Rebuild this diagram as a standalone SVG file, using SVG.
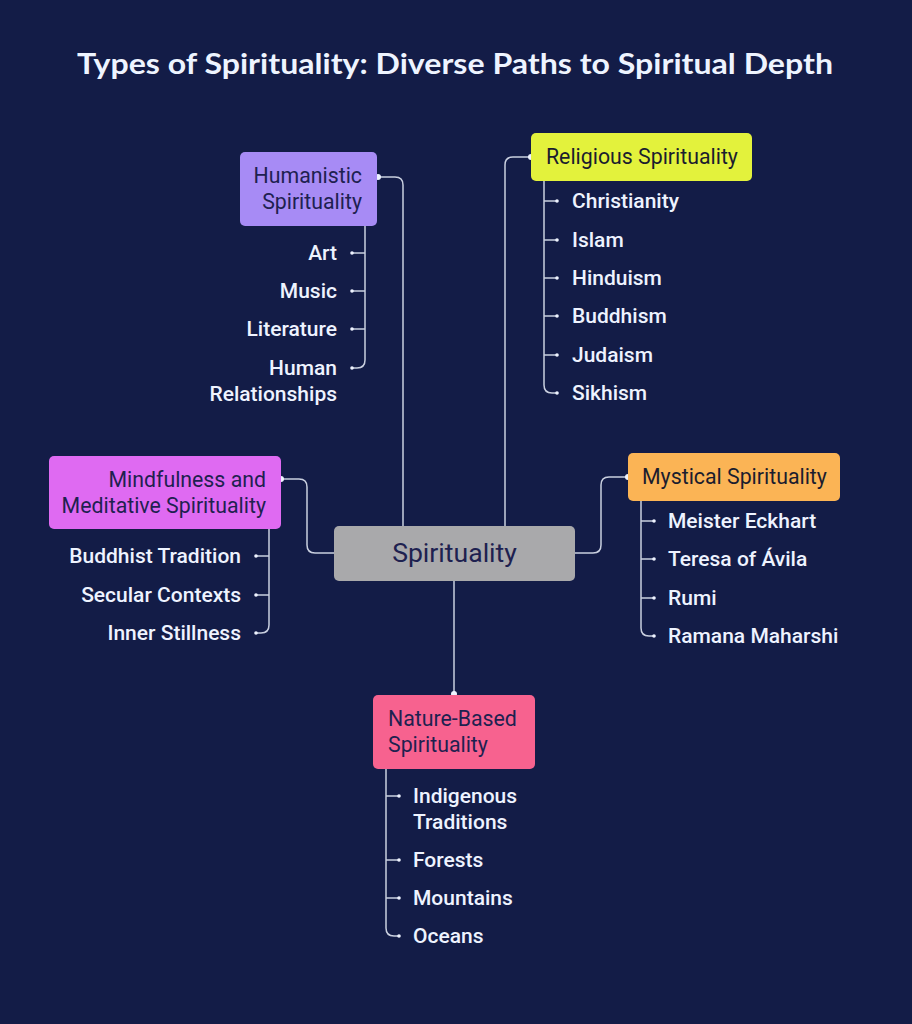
<svg xmlns="http://www.w3.org/2000/svg" width="912" height="1024" viewBox="0 0 912 1024">
<style>
.title{font-family:Lato,"Liberation Sans",sans-serif;font-weight:700;font-size:28px;fill:#eef4ff}
.nt{font-family:Roboto,"Liberation Sans",sans-serif;font-size:21.3px;fill:#1e2150}
.ct{font-family:Roboto,"Liberation Sans",sans-serif;font-size:26.6px;fill:#1e2150}
.lb{font-family:Roboto,"Liberation Sans",sans-serif;font-size:21px;fill:#eef3ff;font-weight:500}
.ln{fill:none;stroke:#c9cfdf;stroke-width:1.5}
.dot{fill:#eef3ff}
</style>
<rect width="912" height="1024" fill="#131c47"/>
<text class="title" x="455" y="74" text-anchor="middle" textLength="756" lengthAdjust="spacingAndGlyphs">Types of Spirituality: Diverse Paths to Spiritual Depth</text>

<g id="connectors">
  <path class="ln" d="M378,177 H395 Q403,177 403,185 V526"/>
  <path class="ln" d="M531,157 H513 Q505,157 505,165 V526"/>
  <path class="ln" d="M281,479 H299 Q307,479 307,487 V545 Q307,553 315,553 H334"/>
  <path class="ln" d="M575,553 H593 Q601,553 601,545 V485 Q601,477 609,477 H628"/>
  <path class="ln" d="M454,581 V694"/>
  <circle class="dot" cx="378" cy="177" r="3"/>
  <circle class="dot" cx="531" cy="157" r="3"/>
  <circle class="dot" cx="281" cy="479" r="3"/>
  <circle class="dot" cx="628" cy="477" r="3"/>
  <circle class="dot" cx="454" cy="694" r="3"/>
  <path class="ln" d="M365,226 V360 Q365,368 357,368 H352 M352,253 H365 M352,291 H365 M352,329 H365"/>
  <path class="ln" d="M544,181 V385 Q544,393 552,393 H557 M544,201 H557 M544,240 H557 M544,278 H557 M544,316 H557 M544,355 H557"/>
  <path class="ln" d="M269,529 V625 Q269,633 261,633 H256 M256,556 H269 M256,595 H269"/>
  <path class="ln" d="M641,501 V628 Q641,636 649,636 H654 M641,521 H654 M641,559 H654 M641,598 H654"/>
  <path class="ln" d="M386,769 V928 Q386,936 394,936 H399 M386,796 H399 M386,860 H399 M386,898 H399"/>
  <g class="dot">
    <circle cx="352" cy="253" r="1.8"/><circle cx="352" cy="291" r="1.8"/><circle cx="352" cy="329" r="1.8"/><circle cx="352" cy="368" r="1.8"/>
    <circle cx="557" cy="201" r="1.8"/><circle cx="557" cy="240" r="1.8"/><circle cx="557" cy="278" r="1.8"/><circle cx="557" cy="316" r="1.8"/><circle cx="557" cy="355" r="1.8"/><circle cx="557" cy="393" r="1.8"/>
    <circle cx="256" cy="556" r="1.8"/><circle cx="256" cy="595" r="1.8"/><circle cx="256" cy="633" r="1.8"/>
    <circle cx="654" cy="521" r="1.8"/><circle cx="654" cy="559" r="1.8"/><circle cx="654" cy="598" r="1.8"/><circle cx="654" cy="636" r="1.8"/>
    <circle cx="399" cy="796" r="1.8"/><circle cx="399" cy="860" r="1.8"/><circle cx="399" cy="898" r="1.8"/><circle cx="399" cy="936" r="1.8"/>
  </g>
</g>

<g id="center">
  <rect x="334" y="526" width="241" height="55" rx="5" fill="#a9a9ab"/>
  <text class="ct" x="454.5" y="562" text-anchor="middle">Spirituality</text>
</g>

<g id="humanistic">
  <rect x="240" y="152" width="137" height="74" rx="5" fill="#a78bf5"/>
  <text class="nt" x="362" y="183" text-anchor="end">Humanistic</text>
  <text class="nt" x="362" y="209" text-anchor="end">Spirituality</text>
</g>
<g id="humanistic-items" class="lb" text-anchor="end">
  <text x="337" y="260">Art</text>
  <text x="337" y="298">Music</text>
  <text x="337" y="336">Literature</text>
  <text x="337" y="375">Human</text>
  <text x="337" y="401">Relationships</text>
</g>

<g id="religious">
  <rect x="531" y="133" width="221" height="48" rx="5" fill="#e3f23c"/>
  <text class="nt" x="546" y="164" style="fill:#1b1d2e">Religious Spirituality</text>
</g>
<g id="religious-items" class="lb">
  <text x="572" y="208">Christianity</text>
  <text x="572" y="247">Islam</text>
  <text x="572" y="285">Hinduism</text>
  <text x="572" y="323">Buddhism</text>
  <text x="572" y="362">Judaism</text>
  <text x="572" y="400">Sikhism</text>
</g>

<g id="mindfulness">
  <rect x="49" y="456" width="232" height="73" rx="5" fill="#df6af2"/>
  <text class="nt" x="266" y="487" text-anchor="end">Mindfulness and</text>
  <text class="nt" x="266" y="513" text-anchor="end">Meditative Spirituality</text>
</g>
<g id="mindfulness-items" class="lb" text-anchor="end">
  <text x="241" y="563">Buddhist Tradition</text>
  <text x="241" y="602">Secular Contexts</text>
  <text x="241" y="640">Inner Stillness</text>
</g>

<g id="mystical">
  <rect x="628" y="453" width="212" height="48" rx="5" fill="#fbb455"/>
  <text class="nt" x="642" y="484" style="fill:#1b1d2e">Mystical Spirituality</text>
</g>
<g id="mystical-items" class="lb">
  <text x="668" y="528">Meister Eckhart</text>
  <text x="668" y="566">Teresa of Ávila</text>
  <text x="668" y="605">Rumi</text>
  <text x="668" y="643">Ramana Maharshi</text>
</g>

<g id="nature">
  <rect x="373" y="695" width="162" height="74" rx="5" fill="#f7628f"/>
  <text class="nt" x="388" y="726">Nature-Based</text>
  <text class="nt" x="388" y="752">Spirituality</text>
</g>
<g id="nature-items" class="lb">
  <text x="413" y="803">Indigenous</text>
  <text x="413" y="829">Traditions</text>
  <text x="413" y="867">Forests</text>
  <text x="413" y="905">Mountains</text>
  <text x="413" y="943">Oceans</text>
</g>
</svg>
